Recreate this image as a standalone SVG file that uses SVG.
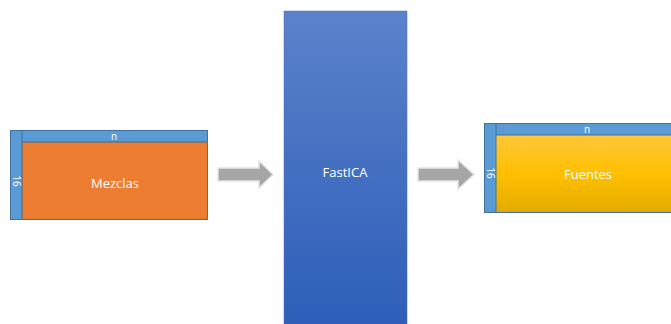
<svg xmlns="http://www.w3.org/2000/svg" width="671" height="324" viewBox="0 0 671 324">
<defs>
<linearGradient id="gBlue" x1="0" y1="0" x2="0" y2="1">
<stop offset="0" stop-color="#5B82CB"/>
<stop offset="1" stop-color="#2E5EB9"/>
</linearGradient>
<linearGradient id="gGold" x1="0" y1="0" x2="0" y2="1">
<stop offset="0" stop-color="#FFC63A"/>
<stop offset="0.5" stop-color="#FFC000"/>
<stop offset="1" stop-color="#E3AB00"/>
</linearGradient>
<style>
.bar{fill:#5B9BD5;stroke:#41719C;stroke-width:1}
.lbl{font-family:"Open Sans","Liberation Sans",sans-serif;fill:#FFFFFF;text-anchor:middle}
.big{font-size:13px}
.small{font-size:10px}
.arrow{fill:#A6A6A6;stroke:#E4E4E4;stroke-width:1.5}
</style>
</defs>
<rect width="671" height="324" fill="#FFFFFF"/>
<g id="mezclas">
<rect class="bar" x="10.5" y="130.5" width="197" height="89"/>
<rect x="22" y="142" width="185" height="77" fill="#ED7D31" stroke="#C5682A" stroke-width="0.5"/>
<line x1="22" y1="142" x2="207" y2="142" stroke="#41719C" stroke-width="1"/>
<line x1="22" y1="130" x2="22" y2="219" stroke="#41719C" stroke-width="1"/>
<text class="lbl small" x="114" y="140">n</text>
<text class="lbl small" transform="translate(12.5,181) rotate(90)" x="0" y="0">16</text>
<text class="lbl big" x="115" y="188">Mezclas</text>
</g>
<g id="fastica">
<rect x="284" y="11" width="123" height="313" fill="url(#gBlue)" stroke="#4A6FB5" stroke-width="0.5"/>
<text class="lbl big" x="345" y="177">FastICA</text>
</g>
<g id="fuentes">
<rect class="bar" x="484.5" y="123.5" width="190" height="89"/>
<rect x="496" y="135" width="180" height="77" fill="url(#gGold)"/>
<line x1="496" y1="135" x2="671" y2="135" stroke="#41719C" stroke-width="1"/>
<line x1="496" y1="123" x2="496" y2="212" stroke="#41719C" stroke-width="1"/>
<text class="lbl small" x="587" y="133">n</text>
<text class="lbl small" transform="translate(486.5,173) rotate(90)" x="0" y="0">16</text>
<text class="lbl big" x="588" y="179">Fuentes</text>
</g>
<g id="connectors">
<path class="arrow" d="M218,168 L259,168 L259,161 L273,174.5 L259,188 L259,181 L218,181 Z"/>
<path class="arrow" d="M418,168 L458,168 L458,160 L474,174.5 L458,189 L458,181 L418,181 Z"/>
</g>
</svg>
